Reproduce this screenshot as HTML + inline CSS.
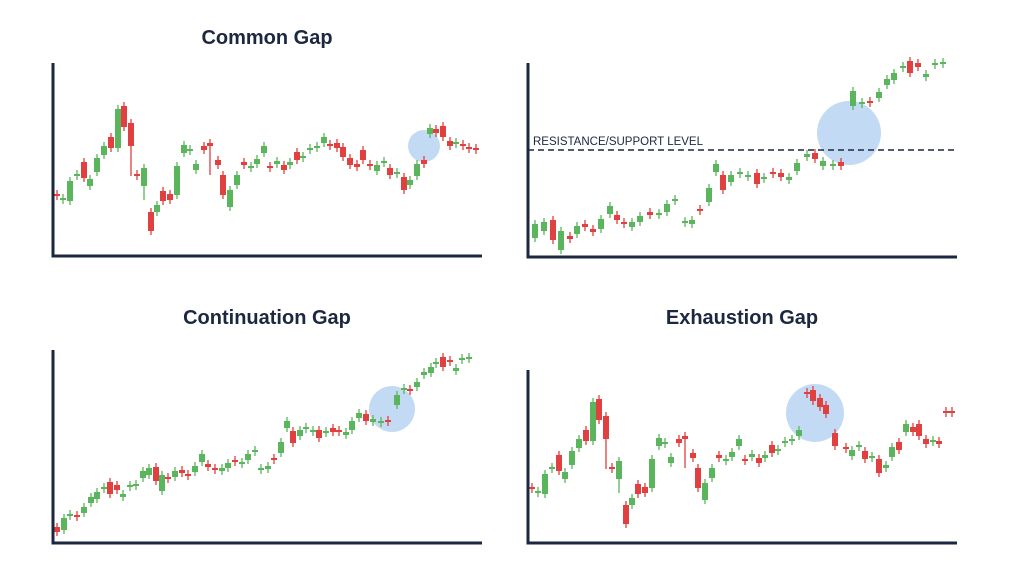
<!DOCTYPE html>
<html><head><meta charset="utf-8"><style>
html,body{margin:0;padding:0;background:#fff;}
svg{display:block}
.t{font-family:"Liberation Sans",sans-serif;font-weight:bold;font-size:20px;fill:#1c2740;text-anchor:middle}
</style></head><body>
<svg id="s" width="1024" height="576" viewBox="0 0 1024 576" xmlns="http://www.w3.org/2000/svg">
<rect width="1024" height="576" fill="#fff"/>
<text class="t" x="267" y="44">Common Gap</text>
<text class="t" x="267" y="324">Continuation Gap</text>
<text class="t" x="742" y="324">Exhaustion Gap</text>
<circle cx="424" cy="146" r="16" fill="#c3daf5"/>
<circle cx="849" cy="133" r="32" fill="#c3daf5"/>
<circle cx="392" cy="409" r="23" fill="#c3daf5"/>
<circle cx="815" cy="413" r="29" fill="#c3daf5"/>
<line x1="528" y1="150" x2="957" y2="150" stroke="#1c2740" stroke-width="1.5" stroke-dasharray="6,4"/>
<text x="533" y="145" font-family="Liberation Sans,sans-serif" font-size="11.5" fill="#1c2740">RESISTANCE/SUPPORT LEVEL</text>
<g id="c"></g>
<g stroke="#1c2740" stroke-width="3" fill="none">
<polyline points="53,63 53,256 482,256"/>
<polyline points="528,63 528,257 957,257"/>
<polyline points="53,350 53,543 482,543"/>
<polyline points="528,370 528,543 957,543"/>
</g>
</svg>
<script>
var p1=[[57,195,195,'r'],[63,198,200,'g'],[70,181,201,'g'],[77,175,175,'g'],[84,162,178,'r'],[90,179,186,'g'],[97,158,172,'g'],[104,146,155,'g'],[111,137,148,'r'],[118,109,148,'g'],[124,106,127,'r'],[131,123,146,'r',176],[137,175,175,'r'],[144,168,186,'g',200],[151,212,231,'r'],[157,205,212,'g'],[163,191,201,'r'],[170,194,200,'r'],[177,166,195,'g'],[184,145,153,'g'],[190,150,150,'g'],[196,164,170,'g'],[204,146,150,'r'],[210,143,146,'r',175],[218,160,165,'r'],[223,175,195,'r'],[230,190,207,'g'],[237,175,185,'g'],[244,162,165,'r'],[251,166,168,'g'],[257,159,164,'g'],[264,146,153,'g'],[270,166,168,'r'],[277,162,163,'g'],[284,165,170,'r'],[290,162,165,'g'],[297,152,160,'r'],[303,156,158,'g'],[310,149,149,'g'],[317,147,147,'g'],[324,137,143,'g']];
var p1b=[[330,145,145,'r'],[337,143,148,'r'],[343,147,157,'r'],[350,158,165,'r'],[357,165,166,'r'],[363,150,160,'r'],[370,165,165,'r'],[377,165,171,'g'],[384,162,162,'g'],[390,168,175,'r'],[397,173,173,'g'],[404,177,190,'r'],[410,180,185,'g'],[417,164,176,'g'],[424,160,164,'r'],[430,128,134,'g'],[436,129,133,'r'],[443,126,137,'r'],[450,141,146,'r'],[456,143,143,'g'],[463,144,146,'r'],[469,148,148,'r'],[476,149,149,'r']];
var p4b=[[807,393,393,'r'],[813,390,401,'r'],[820,398,407,'r'],[826,405,414,'r'],[835,433,446,'r'],[846,448,448,'r'],[852,450,456,'g'],[859,446,446,'g'],[865,451,459,'r'],[872,457,457,'g'],[879,459,473,'r'],[886,465,468,'g'],[892,447,457,'g'],[899,442,450,'r'],[906,424,432,'g'],[913,427,432,'r'],[919,424,436,'r'],[926,439,444,'r'],[933,441,441,'g'],[939,441,444,'r'],[946,412,412,'r'],[952,412,412,'r']];
var p3=[[57,527,532,'r'],[64,518,530,'g'],[70,515,515,'g'],[77,515,517,'r'],[84,507,513,'g'],[91,497,503,'g'],[97,492,499,'g'],[104,488,488,'g'],[110,482,494,'r'],[117,485,490,'r'],[123,494,497,'g'],[130,486,486,'g'],[136,484,486,'g'],[143,471,478,'g'],[149,468,475,'g'],[156,467,481,'r'],[162,475,491,'g'],[168,478,478,'r'],[175,471,477,'g'],[182,470,473,'r'],[188,475,475,'r'],[195,466,472,'g'],[202,454,462,'g'],[208,464,467,'r'],[215,468,470,'r'],[222,468,471,'g'],[228,463,468,'g'],[235,460,462,'r'],[242,463,463,'g'],[248,454,460,'g'],[255,451,451,'g'],[261,469,469,'g'],[268,466,469,'g'],[274,459,459,'r'],[281,442,453,'g'],[287,421,428,'g'],[293,431,443,'r'],[300,430,436,'g'],[306,428,428,'g'],[313,431,431,'g'],[319,430,438,'r'],[326,432,432,'g'],[333,428,432,'r'],[339,430,432,'r'],[346,432,435,'g'],[352,421,430,'g'],[359,413,418,'g'],[366,414,421,'r'],[373,419,422,'g'],[381,422,422,'g'],[388,420,422,'r'],[397,395,405,'g'],[404,389,389,'g'],[410,390,390,'r'],[417,382,387,'g'],[424,372,375,'g'],[431,367,373,'g'],[436,363,363,'g'],[443,357,367,'r'],[450,360,362,'r'],[456,368,371,'g'],[462,359,359,'g'],[469,358,358,'g']];
var p2=[[535,224,238,'g'],[544,222,231,'g'],[553,220,240,'r'],[561,231,250,'g'],[570,236,239,'r'],[577,226,234,'g'],[585,224,227,'r'],[593,229,232,'r'],[601,219,229,'g'],[610,206,214,'g'],[617,215,220,'r'],[624,222,224,'r'],[632,222,227,'g'],[640,216,222,'g'],[650,212,215,'r'],[659,214,214,'g'],[667,204,212,'g'],[675,200,200,'g'],[685,221,223,'g'],[692,220,224,'g'],[700,210,210,'r'],[709,188,202,'g'],[716,164,172,'g'],[723,175,190,'r'],[731,175,182,'g'],[740,173,173,'g'],[748,176,176,'g'],[757,173,184,'r'],[764,178,178,'g'],[773,172,174,'r'],[781,173,177,'r'],[789,177,180,'g'],[797,163,171,'g'],[807,154,157,'g'],[815,153,159,'r'],[823,161,166,'g'],[833,165,165,'g'],[841,162,166,'r'],[853,91,106,'g'],[862,103,103,'g'],[870,102,102,'r'],[879,92,98,'g'],[887,79,85,'g'],[894,73,80,'g'],[903,67,67,'g'],[910,61,73,'r'],[918,63,67,'r'],[926,74,77,'g'],[935,64,64,'g'],[943,63,63,'g']];
var all=[].concat(p1,p1b,p3,p2,p4b,p1.map(function(c){var d=[c[0]+475,c[1]+293,c[2]+293,c[3]];if(c[4])d[4]=c[4]+293;return d;}));
var h='';
all.forEach(function(c){var col=c[3]=='g'?'#5bb55c':'#e0403f';var y1=c[1],y2=c[2];if(y2-y1<2){y1-=1;y2+=1;}
var wt=y1-4,wb=(c[4]||y2+4);
h+='<line x1="'+c[0]+'" x2="'+c[0]+'" y1="'+wt+'" y2="'+wb+'" stroke="'+col+'" stroke-width="1.3"/>';
h+='<rect x="'+(c[0]-3)+'" y="'+y1+'" width="6" height="'+(y2-y1)+'" fill="'+col+'"/>';});
document.getElementById('c').innerHTML=h;
</script>
</body></html>
